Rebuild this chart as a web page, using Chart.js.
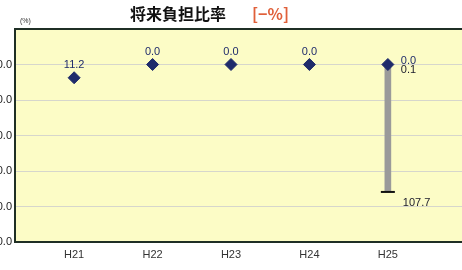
<!DOCTYPE html>
<html>
<head>
<meta charset="utf-8">
<script src="https://cdn.jsdelivr.net/npm/chart.js@4.4.1/dist/chart.umd.min.js"></script>
<style>
  html, body { margin: 0; padding: 0; background: #fff; overflow: hidden; }
  body { width: 462px; height: 270px; position: relative; font-family: "Liberation Sans", Arial, sans-serif; }
  #wrap { position: absolute; left: -30px; top: 0; width: 510px; height: 270px; }
  .title { position: absolute; top: 1px; font-family: "Noto Sans CJK JP", sans-serif; font-weight: bold; font-size: 16px; line-height: 24px; }
  #t1 { left: 130px; color: #111; }
  #t2 { left: 252px; color: #e0603a; }
  #unit { position: absolute; left: 20px; top: 17px; font-size: 7px; color: #333; }
</style>
</head>
<body>
<div id="wrap"><canvas id="chart"></canvas></div>
<div class="title" id="t1">将来負担比率</div>
<div class="title" id="t2">[−%]</div>
<div id="unit">(%)</div>
<script>
// 年度と将来負担比率
const years = ['H21', 'H22', 'H23', 'H24', 'H25'];
const ratio = [11.2, 0.0, 0.0, 0.0, 0.0];
// H25 の幅（灰色の棒）
const rangeLow = [null, null, null, null, 0.1];
const rangeHigh = [null, null, null, null, 107.7];
const yTicks = [-30, 0, 30, 60, 90, 120, 150];

const ratioPts = ratio.map((v, i) => ({ x: i, y: v }));
const rangeBar = rangeLow.map((v, i) => v === null ? null : { x: i, y: [v, rangeHigh[i]] }).filter(p => p);
const rangeCap = rangeHigh.map((v, i) => v === null ? null : { x: i, y: v }).filter(p => p);

const areaPlugin = {
    id: 'area',
    beforeDraw(chart) {
        const { ctx, chartArea: a } = chart;
        ctx.save();
        ctx.fillStyle = '#fcfcc6';
        ctx.fillRect(a.left, a.top, a.right - a.left, a.bottom - a.top);
        ctx.restore();
    },
    afterDatasetsDraw(chart) {
        const { ctx, chartArea: a } = chart;
        ctx.save();
        ctx.strokeStyle = '#1f2f25';
        ctx.lineWidth = 2;
        ctx.beginPath();
        ctx.moveTo(a.right + 5, a.top);
        ctx.lineTo(a.left, a.top);
        ctx.lineTo(a.left, a.bottom);
        ctx.lineTo(a.right + 5, a.bottom);
        ctx.stroke();
        ctx.restore();
    }
};

const labelPlugin = {
    id: 'labels',
    afterDatasetsDraw(chart) {
        const ctx = chart.ctx;
        ctx.save();
        ctx.font = '11px "Liberation Sans", Arial, sans-serif';
        ctx.textBaseline = 'middle';
        const pts = chart.getDatasetMeta(2).data;
        pts.forEach((el, i) => {
            ctx.fillStyle = '#1f2b6b';
            if (i === 4) {
                ctx.textAlign = 'left';
                ctx.fillText(ratio[i].toFixed(1), el.x + 13, el.y - 4);
            } else {
                ctx.textAlign = 'center';
                ctx.fillText(ratio[i].toFixed(1), el.x, el.y - 13);
            }
        });
        const bar = chart.getDatasetMeta(0).data[0];
        ctx.textAlign = 'left';
        ctx.fillStyle = '#1a1a2a';
        ctx.fillText(rangeLow[4].toFixed(1), bar.x + 13, chart.scales.y.getPixelForValue(rangeLow[4]) + 5);
        ctx.fillText(rangeHigh[4].toFixed(1), bar.x + 15, chart.scales.y.getPixelForValue(rangeHigh[4]) + 11);
        ctx.restore();
    }
};

const ctx = document.getElementById('chart').getContext('2d');
const myChart = new Chart(ctx, {
    data: {
        datasets: [{
            type: 'bar',
            data: rangeBar,
            backgroundColor: '#9a9a9a',
            borderWidth: 0,
            barThickness: 6,
            order: 3
        }, {
            type: 'scatter',
            data: rangeCap,
            pointStyle: 'line',
            pointRadius: 7,
            borderColor: '#111',
            borderWidth: 2,
            order: 2
        }, {
            type: 'scatter',
            data: ratioPts,
            pointStyle: 'rectRot',
            pointRadius: 6,
            backgroundColor: '#1f2b6b',
            borderColor: '#1f2b6b',
            borderWidth: 1,
            order: 1
        }]
    },
    options: {
        responsive: true,
        maintainAspectRatio: false,
        animation: false,
        layout: { padding: { top: 29, right: 0, left: 0, bottom: 0 } },
        plugins: { legend: { display: false }, tooltip: { enabled: false } },
        scales: {
            x: {
                type: 'linear',
                offset: false,
                min: -0.754,
                max: 5.06,
                afterBuildTicks: (s) => { s.ticks = years.map((y, i) => ({ value: i })); },
                afterFit: (s) => { s.height = 28; },
                ticks: {
                    callback: (v) => years[v],
                    color: '#333',
                    font: { size: 11, family: '"Liberation Sans", Arial, sans-serif' },
                    padding: 6,
                    maxRotation: 0
                },
                grid: { display: false, drawTicks: false },
                border: { display: false }
            },
            y: {
                reverse: true,
                min: -30,
                max: 150,
                afterBuildTicks: (s) => { s.ticks = yTicks.map(v => ({ value: v })); },
                afterFit: (s) => { s.width = 45; },
                ticks: {
                    callback: (v) => v < 0 ? '' : v.toFixed(1),
                    color: '#222',
                    font: { size: 11, family: '"Liberation Sans", Arial, sans-serif' },
                    padding: 3
                },
                grid: { color: '#d6d6cc', lineWidth: 1, drawTicks: false },
                border: { display: false }
            }
        }
    },
    plugins: [areaPlugin, labelPlugin]
});
</script>
</body>
</html>
